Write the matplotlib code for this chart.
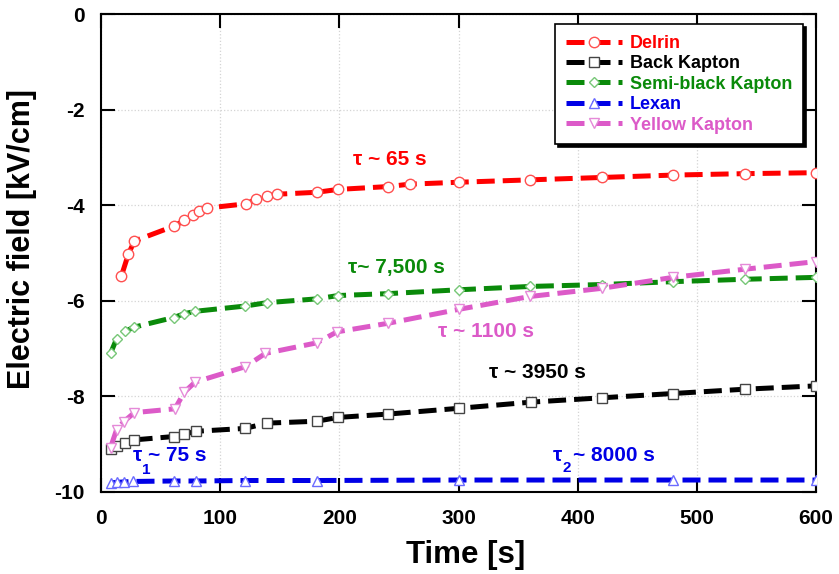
import matplotlib
matplotlib.use("Agg")
import matplotlib.pyplot as plt

plt.rcParams['font.family'] = ['Liberation Sans', 'DejaVu Sans']
plt.rcParams['font.weight'] = 'bold'
plt.rcParams['axes.unicode_minus'] = False

# ---- data ----
delrin_t = [17, 23, 28, 61, 70, 77, 82, 89, 122, 130, 139, 148, 181, 199, 241, 259, 300, 360, 420, 480, 540, 600]
delrin_e = [-5.49, -5.02, -4.75, -4.44, -4.32, -4.20, -4.12, -4.06, -3.97, -3.88, -3.81, -3.77,
            -3.73, -3.67, -3.61, -3.56, -3.52, -3.47, -3.42, -3.37, -3.34, -3.32]

back_t = [8, 13, 20, 28, 61, 70, 80, 121, 139, 181, 199, 241, 300, 361, 420, 480, 540, 600]
back_e = [-9.11, -9.04, -8.97, -8.91, -8.84, -8.79, -8.73, -8.67, -8.56, -8.52, -8.44, -8.37,
          -8.25, -8.12, -8.03, -7.94, -7.85, -7.78]

semi_t = [8, 13, 20, 28, 61, 70, 79, 121, 139, 181, 199, 241, 300, 360, 420, 480, 540, 600]
semi_e = [-7.10, -6.80, -6.64, -6.55, -6.35, -6.27, -6.22, -6.11, -6.04, -5.96, -5.89, -5.85,
          -5.77, -5.70, -5.66, -5.60, -5.55, -5.51]

lexan_t = [8, 13, 19, 27, 61, 80, 121, 181, 300, 480, 600]
lexan_e = [-9.81, -9.80, -9.79, -9.78, -9.77, -9.77, -9.76, -9.76, -9.75, -9.75, -9.75]

yellow_t = [8, 13, 19, 28, 62, 70, 79, 121, 138, 181, 198, 241, 300, 360, 420, 480, 540, 600]
yellow_e = [-9.07, -8.70, -8.53, -8.34, -8.26, -7.91, -7.70, -7.38, -7.10, -6.88, -6.65, -6.47,
            -6.18, -5.91, -5.74, -5.51, -5.34, -5.18]

series_names = ['Delrin', 'Back Kapton', 'Semi-black Kapton', 'Lexan', 'Yellow Kapton']

xticks = [0, 100, 200, 300, 400, 500, 600]
yticks = [0, -2, -4, -6, -8, -10]

# ---- styling ----
RED = '#ff0000'
BLACK = '#000000'
GREEN = '#0a8a0a'
BLUE = '#0000e6'
PINK = '#dc5ac8'

fig = plt.figure(figsize=(8.39, 5.74), dpi=100)
ax = fig.add_axes([0.1204, 0.1429, 0.8522, 0.8327])

dash = (3.6, 1.6)
lw = 3.6
styles = [
    (delrin_t, delrin_e, RED, 'o', '#ff5050', 7.5),
    (back_t, back_e, BLACK, 's', '#444444', 7.5),
    (semi_t, semi_e, GREEN, 'D', '#77c777', 5.5),
    (lexan_t, lexan_e, BLUE, '^', '#6a6aff', 7),
    (yellow_t, yellow_e, PINK, 'v', '#e58ad8', 7.5),
]
for (t, e, c, m, mec, ms), name in zip(styles, series_names):
    ax.plot(t, e, color=c, lw=lw, dashes=dash, marker=m, ms=ms,
            mfc='white', mec=mec, mew=1.0, label=name, zorder=3)

ax.set_xlim(0, 600)
ax.set_ylim(-10, 0)
ax.set_xticks(xticks)
ax.set_yticks(yticks)
ax.tick_params(direction='in', length=10, width=1.5, top=True, right=True,
               labelsize=15, pad=12)
for lab in ax.get_xticklabels() + ax.get_yticklabels():
    lab.set_fontweight('bold')
for sp in ax.spines.values():
    sp.set_linewidth(1.5)
ax.grid(True, color='#d4d4d4', linestyle=':', linewidth=0.9, zorder=0)

ax.set_xlabel('Time [s]', fontsize=22.5, fontweight='bold')
ax.set_ylabel('Electric field [kV/cm]', fontsize=22, fontweight='bold')
ax.xaxis.set_label_coords(0.51, -0.10)
ax.yaxis.set_label_coords(-0.089, 0.53)

leg = ax.legend(loc='upper right', bbox_to_anchor=(0.982, 0.979), borderaxespad=0,
                fontsize=13, handlelength=3.1, handletextpad=0.45, labelspacing=0.19,
                borderpad=0.6, fancybox=False, shadow={'color': 'black', 'alpha': 1.0},
                edgecolor='black', framealpha=1.0)
leg.get_frame().set_linewidth(1.2)
for txt, (_, _, c, _, _, _) in zip(leg.get_texts(), styles):
    txt.set_color(c)
    txt.set_fontweight('bold')

fs = 15
ax.text(242, -3.04, 'τ ~ 65 s', color=RED, fontsize=fs, fontweight='bold', ha='center', va='center')
ax.text(248, -5.31, 'τ~ 7,500 s', color=GREEN, fontsize=fs, fontweight='bold', ha='center', va='center')
ax.text(323, -6.65, 'τ ~ 1100 s', color=PINK, fontsize=fs, fontweight='bold', ha='center', va='center')
ax.text(366, -7.50, 'τ ~ 3950 s', color=BLACK, fontsize=fs, fontweight='bold', ha='center', va='center')

ax.text(26.8, -9.23, 'τ', color=BLUE, fontsize=fs, fontweight='bold', ha='left', va='center')
ax.text(34.5, -9.54, '1', color=BLUE, fontsize=11, fontweight='bold', ha='left', va='center')
ax.text(39.5, -9.23, '~ 75 s', color=BLUE, fontsize=fs, fontweight='bold', ha='left', va='center')

ax.text(379.4, -9.23, 'τ', color=BLUE, fontsize=fs, fontweight='bold', ha='left', va='center')
ax.text(387.5, -9.49, '2', color=BLUE, fontsize=11, fontweight='bold', ha='left', va='center')
ax.text(395.8, -9.23, '~ 8000 s', color=BLUE, fontsize=fs, fontweight='bold', ha='left', va='center')

fig.savefig('out.png', dpi=100)
